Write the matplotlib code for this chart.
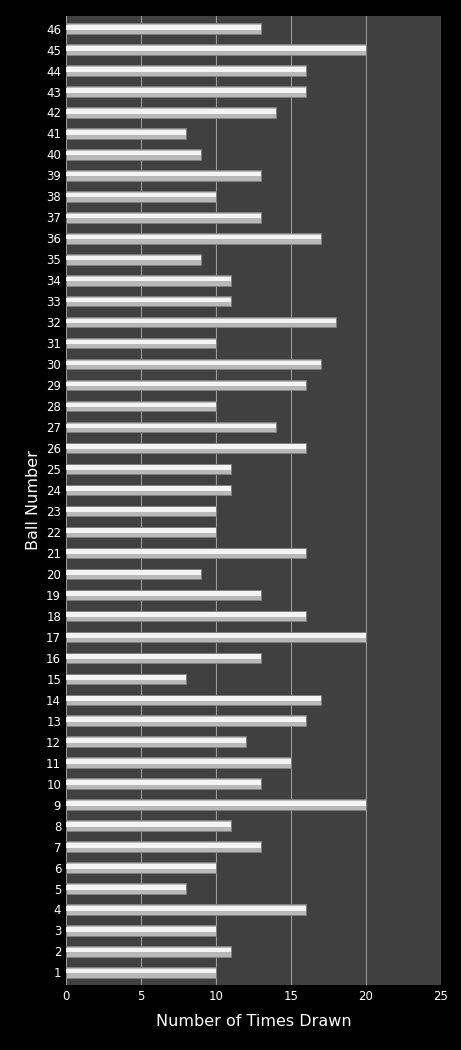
import matplotlib
matplotlib.use("Agg")
import matplotlib.pyplot as plt

balls = list(range(1, 47))
counts = [10, 11, 10, 16, 8, 10, 13, 11, 20, 13, 15, 12, 16, 17, 8, 13, 20, 16, 13, 9,
          16, 10, 10, 11, 11, 16, 14, 10, 16, 17, 10, 18, 11, 11, 9, 17, 13, 10, 13, 9,
          8, 14, 16, 16, 20, 13]
xticks = [0, 5, 10, 15, 20, 25]

fig = plt.figure(figsize=(4.61, 10.5), dpi=100, facecolor="black")
ax = fig.add_axes([66/461, 1-985/1050, 375/461, 969/1050])
ax.set_facecolor("#404040")
ax.barh(balls, counts, height=0.5, color="#b8b8b8", edgecolor="#808080", linewidth=0.6, zorder=3)
ax.barh([b + 0.06 for b in balls], counts, height=0.22, color="#f4f4f4", linewidth=0, zorder=4)
ax.set_xlim(0, 25)
ax.set_ylim(0.4, 46.6)
ax.set_xticks(xticks)
ax.set_yticks(balls)
ax.set_yticklabels([str(b) for b in balls])
ax.grid(axis="x", color="#9a9a9a", linewidth=0.8, zorder=0)
for s in ax.spines.values():
    s.set_visible(False)
ax.tick_params(colors="white", labelsize=8.5, length=0)
ax.set_xlabel("Number of Times Drawn", color="white", fontsize=11.5, labelpad=8)
ax.set_ylabel("Ball Number", color="white", fontsize=11.5, labelpad=4)
fig.savefig("out.png", facecolor="black")
